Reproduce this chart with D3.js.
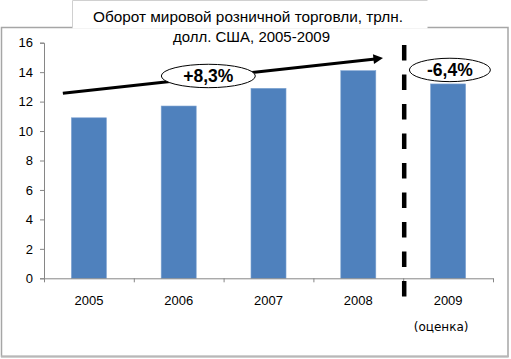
<!DOCTYPE html>
<html><head><meta charset="utf-8">
<script src="https://cdn.jsdelivr.net/npm/d3@7"></script>
<style>
html,body{margin:0;padding:0;background:#fff;}
svg{display:block;}
</style></head>
<body>
<script>
const categories = ["2005","2006","2007","2008","2009"];
const values = [10.9, 11.7, 12.9, 14.1, 13.2];
const yTicks = [0,2,4,6,8,10,12,14,16];
const titleLines = ["Оборот мировой розничной торговли, трлн.", "долл. США, 2005-2009"];
const subLabel = "(оценка)";
const growthLabels = ["+8,3%", "-6,4%"];

const W = 511, H = 359;
const svg = d3.select("body").append("svg").attr("width", W).attr("height", H);

// frame
svg.append("rect").attr("x",1.5).attr("y",27.5).attr("width",506.5).attr("height",329)
  .attr("fill","#fff").attr("stroke","#a6a6a6").attr("stroke-width",1.5);
svg.append("line").attr("x1",1).attr("x2",508.5).attr("y1",356.5).attr("y2",356.5)
  .attr("stroke","#b8b8b8").attr("stroke-width",2);
// title box
svg.append("rect").attr("x",72.5).attr("y",0.5).attr("width",355).attr("height",28)
  .attr("fill","#fff").attr("stroke","none");
svg.append("path").attr("d","M72.5,27.5V0.5H427.5").attr("fill","none").attr("stroke","#d0d0d0").attr("stroke-width",1);

const x = d3.scaleBand().domain(categories).range([44, 493]).padding(0);
const y = d3.scaleLinear().domain([0,16]).range([278.3, 42.7]);
const barW = x.bandwidth()*0.39;
const xAt = t => x.range()[0] + x.step()*t;

// bars
svg.append("g").selectAll("rect").data(values).join("rect")
  .attr("x",(d,i)=>x(categories[i]) + x.bandwidth()/2 - barW/2)
  .attr("y",d=>y(d))
  .attr("width",barW)
  .attr("height",d=>y(0)-y(d))
  .attr("fill","#4f81bd").attr("stroke","#7ea3d1").attr("stroke-width",0.6);

// y axis
const ya = svg.append("g").attr("transform","translate(44,0)")
  .call(d3.axisLeft(y).tickValues(yTicks).tickSize(4).tickPadding(7).tickFormat(d3.format("d")));
ya.select(".domain").attr("stroke","#868686");
ya.selectAll(".tick line").attr("stroke","#868686");
ya.selectAll("text").attr("font-family","Liberation Sans, Arial, sans-serif").attr("font-size",13).attr("fill","#000");

// x axis
const xa = svg.append("g").attr("transform",`translate(0,${y(0)})`)
  .call(d3.axisBottom(x).tickSize(0).tickPadding(17));
xa.select(".domain").attr("stroke","#868686");
xa.selectAll("text").attr("font-family","Liberation Sans, Arial, sans-serif").attr("font-size",13).attr("fill","#000");
svg.append("g").selectAll("line").data(categories.map(c=>x(c)).concat([x.range()[1]])).join("line")
  .attr("x1",d=>d+0.5).attr("x2",d=>d+0.5).attr("y1",y(0)).attr("y2",y(0)+4)
  .attr("stroke","#868686");

svg.append("text").attr("x",x("2009")+x.bandwidth()/2-7).attr("y",331)
  .attr("text-anchor","middle").attr("font-family","DejaVu Sans, sans-serif").attr("font-size",12)
  .text(subLabel);

// title
svg.append("text").attr("x",248).attr("y",21.5).attr("text-anchor","middle")
  .attr("font-family","Liberation Sans, Arial, sans-serif").attr("font-size",15.5)
  .attr("textLength",310).attr("lengthAdjust","spacingAndGlyphs").text(titleLines[0]);
svg.append("text").attr("x",251.5).attr("y",41.5).attr("text-anchor","middle")
  .attr("font-family","Liberation Sans, Arial, sans-serif").attr("font-size",15.5)
  .attr("textLength",157).attr("lengthAdjust","spacingAndGlyphs").text(titleLines[1]);

// dashed divider
svg.append("line").attr("x1",x("2009")+1).attr("x2",x("2009")+1).attr("y1",y(15.85)).attr("y2",y(0)+20)
  .attr("stroke","#000").attr("stroke-width",4.5).attr("stroke-dasharray","15.5,14");

// arrow
const defs = svg.append("defs");
defs.append("marker").attr("id","ah").attr("viewBox","0 0 10 10").attr("refX",2).attr("refY",5)
  .attr("markerWidth",3.6).attr("markerHeight",3.2).attr("orient","auto").attr("markerUnits","strokeWidth")
  .append("path").attr("d","M0,0L10,5L0,10Z").attr("fill","#000");
svg.append("line").attr("x1",xAt(0.21)).attr("y1",y(12.57)).attr("x2",xAt(3.69)).attr("y2",y(14.9))
  .attr("stroke","#000").attr("stroke-width",3).attr("marker-end","url(#ah)");

// ellipses
const ann = [{t:1.83, v:13.74, rx:47, label:growthLabels[0]},{t:4.52, v:14.15, rx:40.5, label:growthLabels[1]}];
ann.forEach(a=>{
  svg.append("ellipse").attr("cx",xAt(a.t)).attr("cy",y(a.v)).attr("rx",a.rx).attr("ry",11.7)
    .attr("fill","#fff").attr("stroke","#000").attr("stroke-width",1);
  svg.append("text").attr("x",xAt(a.t)).attr("y",y(a.v)+6).attr("text-anchor","middle")
    .attr("font-family","Liberation Sans, Arial, sans-serif").attr("font-weight","bold").attr("font-size",17.5)
    .text(a.label);
});
</script>
</body></html>
